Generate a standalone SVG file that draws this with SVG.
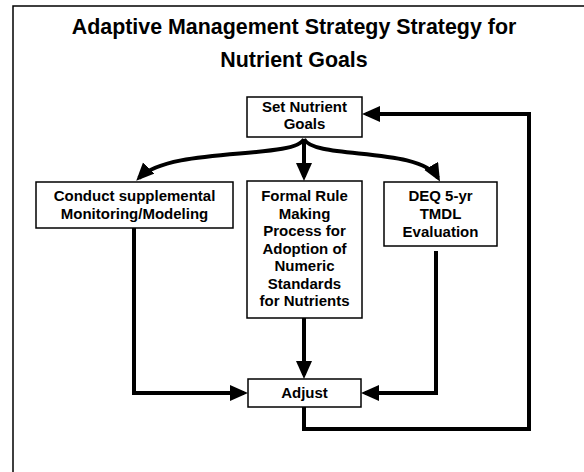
<svg xmlns="http://www.w3.org/2000/svg" width="584" height="472" viewBox="0 0 584 472">
  <style>
    .box { fill: #fff; stroke: #000; stroke-width: 1.5; }
    .lbl { font-family: "Liberation Sans", Arial, sans-serif; font-weight: bold; font-size: 15px; fill: #000; text-anchor: middle; }
    .title { font-family: "Liberation Sans", Arial, sans-serif; font-weight: bold; font-size: 21.4px; fill: #000; text-anchor: middle; }
    .conn { fill: none; stroke: #000; stroke-width: 4; stroke-linejoin: miter; marker-end: url(#arrow); }
    .plain { fill: none; stroke: #000; stroke-width: 4; stroke-linejoin: miter; }
  </style>
  <defs>
    <marker id="arrow" markerUnits="userSpaceOnUse" markerWidth="19" markerHeight="17" refX="14" refY="8" orient="auto">
      <path d="M0,0 L18,8 L0,16 Z" fill="#000"/>
    </marker>
  </defs>

  <rect width="584" height="472" fill="#fff"/>
  <!-- frame -->
  <path d="M13,472 V6 H584" fill="none" stroke="#000" stroke-width="1.5"/>

  <!-- title -->
  <g id="title">
    <text class="title" x="294" y="34">Adaptive Management Strategy Strategy for</text>
    <text class="title" x="294" y="67">Nutrient Goals</text>
  </g>

  <!-- connectors -->
  <g id="connectors">
    <path class="conn" d="M304,139 V177"/>
    <path class="conn" d="M304,139 C294,160 170,146 139,178"/>
    <path class="conn" d="M304,139 C314,160 420,146 438,178"/>
    <path class="conn" d="M304,318 V375"/>
    <path class="conn" d="M134,228 V393 H244"/>
    <path class="conn" d="M436,251 V393 H365"/>
    <path class="plain" d="M304,407 V429 H529 V114 H370"/>
    <path class="conn" d="M372,114 H366"/>
  </g>

  <!-- nodes -->
  <g id="set-goals">
    <rect class="box" x="247" y="97" width="115" height="40"/>
    <text class="lbl" x="304.5" y="112">Set Nutrient</text>
    <text class="lbl" x="304.5" y="129">Goals</text>
  </g>

  <g id="monitoring">
    <rect class="box" x="36" y="182" width="197" height="46"/>
    <text class="lbl" x="134.5" y="201">Conduct supplemental</text>
    <text class="lbl" x="134.5" y="219">Monitoring/Modeling</text>
  </g>

  <g id="rule-making">
    <rect class="box" x="247" y="181" width="115" height="137"/>
    <text class="lbl" x="304.5" y="201">Formal Rule</text>
    <text class="lbl" x="304.5" y="218.5">Making</text>
    <text class="lbl" x="304.5" y="236">Process for</text>
    <text class="lbl" x="304.5" y="253.5">Adoption of</text>
    <text class="lbl" x="304.5" y="271">Numeric</text>
    <text class="lbl" x="304.5" y="288.5">Standards</text>
    <text class="lbl" x="304.5" y="306">for Nutrients</text>
  </g>

  <g id="tmdl">
    <rect class="box" x="384" y="182" width="113" height="64"/>
    <text class="lbl" x="440.5" y="201">DEQ 5-yr</text>
    <text class="lbl" x="440.5" y="219">TMDL</text>
    <text class="lbl" x="440.5" y="237">Evaluation</text>
  </g>

  <g id="adjust">
    <rect class="box" x="248" y="379" width="113" height="28"/>
    <text class="lbl" x="304.5" y="398">Adjust</text>
  </g>
</svg>
